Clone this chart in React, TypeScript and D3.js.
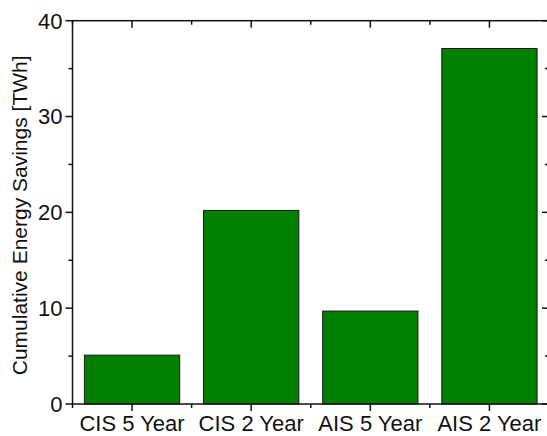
import { FC, useRef, useEffect } from 'react';
import * as d3 from 'd3';

// categories and values
const categories = ['CIS 5 Year', 'CIS 2 Year', 'AIS 5 Year', 'AIS 2 Year'];
const savings = [5.1, 20.2, 9.7, 37.1];
const yTicks = [0, 10, 20, 30, 40];
const yMinorTicks = [5, 15, 25, 35];
const yLabel = 'Cumulative Energy Savings [TWh]';

const FONT = '"Liberation Sans", Arial, Helvetica, sans-serif';

const BarChart: FC = () => {
  const svgRef = useRef<SVGSVGElement>(null);

  useEffect(() => {
    const width = 547, height = 436;
    const left = 72.5, right = 549, top = 20.7, bottom = 404;

    const svg = d3.select(svgRef.current)
      .attr('width', width)
      .attr('height', height);

    // clear on refresh
    svg.selectAll('*').remove();

    const x = d3.scaleBand<string>()
      .domain(categories)
      .range([left, right])
      .paddingInner(0.2)
      .paddingOuter(0.1);

    const y = d3.scaleLinear()
      .domain([0, 40])
      .range([bottom, top]);

    const data = categories.map((c, i) => ({ cat: c, value: savings[i] }));

    // bars
    svg.append('g')
      .selectAll('rect')
      .data(data)
      .join('rect')
      .attr('x', d => x(d.cat)!)
      .attr('width', x.bandwidth())
      .attr('y', d => y(d.value))
      .attr('height', d => y(0) - y(d.value))
      .attr('fill', '#008000')
      .attr('stroke', '#1a1a1a')
      .attr('stroke-width', 1);

    const axes = svg.append('g')
      .attr('stroke', '#111')
      .attr('stroke-width', 1.5)
      .attr('fill', 'none');

    // frame
    axes.append('rect')
      .attr('x', left).attr('y', top)
      .attr('width', right - left).attr('height', bottom - top);

    const step = x.step();
    const centers = categories.map(c => x(c)! + x.bandwidth() / 2);
    const bounds = d3.range(categories.length + 1).map(i => left + i * step);

    // bottom + top ticks
    centers.forEach(cx => {
      axes.append('line').attr('x1', cx).attr('x2', cx).attr('y1', bottom).attr('y2', bottom + 7);
      axes.append('line').attr('x1', cx).attr('x2', cx).attr('y1', top).attr('y2', top + 7);
    });
    bounds.forEach(bx => {
      axes.append('line').attr('x1', bx).attr('x2', bx).attr('y1', bottom).attr('y2', bottom + 4);
      axes.append('line').attr('x1', bx).attr('x2', bx).attr('y1', top).attr('y2', top + 4);
    });

    // left + right ticks
    yTicks.forEach(t => {
      axes.append('line').attr('x1', left - 7).attr('x2', left).attr('y1', y(t)).attr('y2', y(t));
      axes.append('line').attr('x1', right - 7).attr('x2', right).attr('y1', y(t)).attr('y2', y(t));
    });
    yMinorTicks.forEach(t => {
      axes.append('line').attr('x1', left - 4).attr('x2', left).attr('y1', y(t)).attr('y2', y(t));
      axes.append('line').attr('x1', right - 4).attr('x2', right).attr('y1', y(t)).attr('y2', y(t));
    });

    // tick labels
    svg.append('g')
      .selectAll('text')
      .data(yTicks)
      .join('text')
      .attr('x', left - 10)
      .attr('y', d => y(d))
      .attr('dy', '0.36em')
      .attr('text-anchor', 'end')
      .attr('font-family', FONT)
      .attr('font-size', 22)
      .attr('fill', '#111')
      .text(d => d);

    svg.append('g')
      .selectAll('text')
      .data(categories)
      .join('text')
      .attr('x', d => x(d)! + x.bandwidth() / 2)
      .attr('y', 431)
      .attr('text-anchor', 'middle')
      .attr('font-family', FONT)
      .attr('font-size', 22)
      .attr('fill', '#111')
      .text(d => d);

    // y title
    svg.append('text')
      .attr('transform', `translate(27,${(top + bottom) / 2 + 3}) rotate(-90)`)
      .attr('text-anchor', 'middle')
      .attr('font-family', FONT)
      .attr('font-size', 21)
      .attr('fill', '#111')
      .text(yLabel);
  }, []);

  return (
    <svg ref={svgRef} style={{ position: 'absolute', left: 0, top: 0, display: 'block' }}></svg>
  );
};

export default function App() {
  return <BarChart />;
}
